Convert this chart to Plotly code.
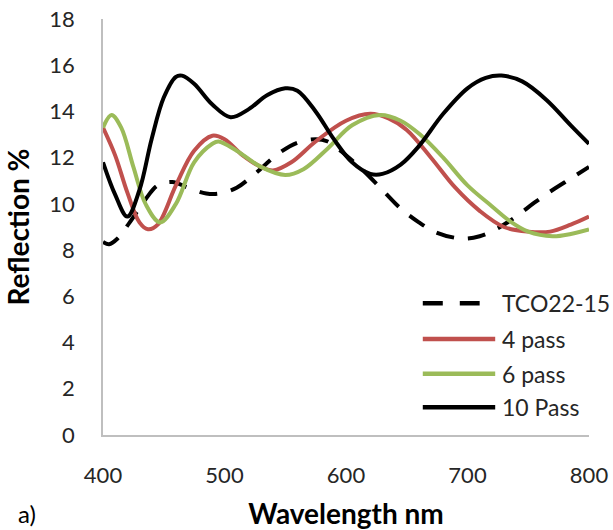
import plotly.graph_objects as go

# Reflection spectra (wavelength in nm, reflection in %)
tco_wl = [400, 405, 412, 422, 435, 445, 457, 470, 485, 496, 510, 525, 545, 560, 575,
          585, 600, 615, 630, 645, 660, 675, 695, 710, 725, 740, 755, 770, 785, 800]
tco_r = [8.35, 8.25, 8.5, 9.2, 10.2, 10.8, 10.95, 10.7, 10.45, 10.45, 10.7, 11.3, 12.2, 12.65, 12.8,
         12.7, 12.1, 11.4, 10.6, 9.8, 9.2, 8.75, 8.5, 8.6, 8.95, 9.45, 10.05, 10.6, 11.1, 11.6]

p4_wl = [400, 410, 420, 430, 437, 445, 460, 475, 490, 500, 515, 530, 540, 555, 575,
         600, 620, 635, 650, 670, 690, 710, 730, 750, 768, 785, 800]
p4_r = [13.3, 12.1, 10.5, 9.2, 8.9, 9.1, 10.8, 12.3, 12.95, 12.8, 12.1, 11.6, 11.45, 11.8, 12.7,
        13.6, 13.9, 13.7, 13.2, 12.0, 10.7, 9.7, 9.0, 8.8, 8.8, 9.1, 9.45]

p6_wl = [400, 407, 415, 425, 435, 447, 460, 475, 490, 495, 510, 530, 550, 565, 585,
         605, 628, 645, 661, 680, 700, 720, 735, 750, 770, 785, 800]
p6_r = [13.3, 13.85, 13.3, 11.6, 10.0, 9.2, 10.0, 11.8, 12.6, 12.7, 12.3, 11.6, 11.25, 11.5, 12.4,
        13.4, 13.85, 13.6, 13.0, 12.0, 10.8, 9.9, 9.25, 8.8, 8.6, 8.7, 8.9]

p10_wl = [400, 410, 420, 430, 440, 450, 460, 465, 475, 490, 505, 520, 535, 550, 560,
          575, 590, 605, 620, 630, 645, 660, 680, 700, 715, 728, 745, 765, 785, 800]
p10_r = [11.8, 10.4, 9.45, 10.6, 12.8, 14.6, 15.5, 15.55, 15.2, 14.3, 13.75, 14.1, 14.7, 15.0, 14.9,
         14.0, 12.8, 11.8, 11.3, 11.3, 11.7, 12.5, 13.9, 15.0, 15.45, 15.55, 15.3, 14.5, 13.4, 12.6]

series_names = ["TCO22-15", "4 pass", "6 pass", "10 Pass"]
series_colors = ["#000000", "#c0504d", "#9bbb59", "#000000"]
series_dash = ["18px,14px", "solid", "solid", "solid"]
series_x = [tco_wl, p4_wl, p6_wl, p10_wl]
series_y = [tco_r, p4_r, p6_r, p10_r]

x_ticks = [400, 500, 600, 700, 800]
y_ticks = [0, 2, 4, 6, 8, 10, 12, 14, 16, 18]

FONT = "Lato, 'Open Sans', sans-serif"

fig = go.Figure()
for name, xs, ys, col, dash in zip(series_names, series_x, series_y, series_colors, series_dash):
    fig.add_trace(go.Scatter(
        x=xs, y=ys, name=name, mode="lines",
        line=dict(color=col, width=4, dash=dash, shape="spline", smoothing=1.0),
        showlegend=False,
    ))

# Legend drawn at the lower right of the plot area with long line samples
legend_y = [0.317, 0.231, 0.147, 0.067]
shapes = []
annotations = []
for name, col, dash, ly in zip(series_names, series_colors, series_dash, legend_y):
    x1 = 0.775 if dash != "solid" else 0.807
    shapes.append(dict(
        type="line", xref="paper", yref="paper", x0=0.658, x1=x1, y0=ly, y1=ly,
        line=dict(color=col, width=4.5, dash="20px,17px" if dash != "solid" else "solid"),
    ))
    annotations.append(dict(
        text=name, xref="paper", yref="paper", x=0.817, y=ly,
        xanchor="left", yanchor="middle", showarrow=False,
        font=dict(family=FONT, size=23, color="#262626"),
    ))

annotations.append(dict(
    text="a)", xref="paper", yref="paper", x=-0.178, y=-0.228,
    xanchor="left", yanchor="bottom", showarrow=False,
    font=dict(family=FONT, size=24, color="#000000"),
))

fig.update_layout(
    width=613, height=530,
    margin=dict(l=103, r=24, t=19, b=95),
    paper_bgcolor="white", plot_bgcolor="white",
    font=dict(family=FONT, color="#262626"),
    shapes=shapes, annotations=annotations,
    xaxis=dict(
        range=[400, 800], tickvals=x_ticks, showgrid=False, zeroline=False,
        showline=True, linecolor="#bfbfbf", linewidth=1.5, automargin=False,
        ticks="outside", ticklen=20, tickcolor="rgba(0,0,0,0)",
        tickfont=dict(family=FONT, size=22, color="#262626"),
        title=dict(text="<b>Wavelength nm</b>", standoff=20,
                   font=dict(family=FONT, size=28, color="#000000")),
    ),
    yaxis=dict(
        range=[0, 18], tickvals=y_ticks, showgrid=False, zeroline=False,
        showline=True, linecolor="#bfbfbf", linewidth=1.5, automargin=False,
        ticks="outside", ticklen=22, tickcolor="rgba(0,0,0,0)",
        tickfont=dict(family=FONT, size=22, color="#262626"),
        title=dict(text="<b>Reflection %</b>", standoff=12,
                   font=dict(family=FONT, size=28, color="#000000")),
    ),
)

fig.write_html("out.html")
